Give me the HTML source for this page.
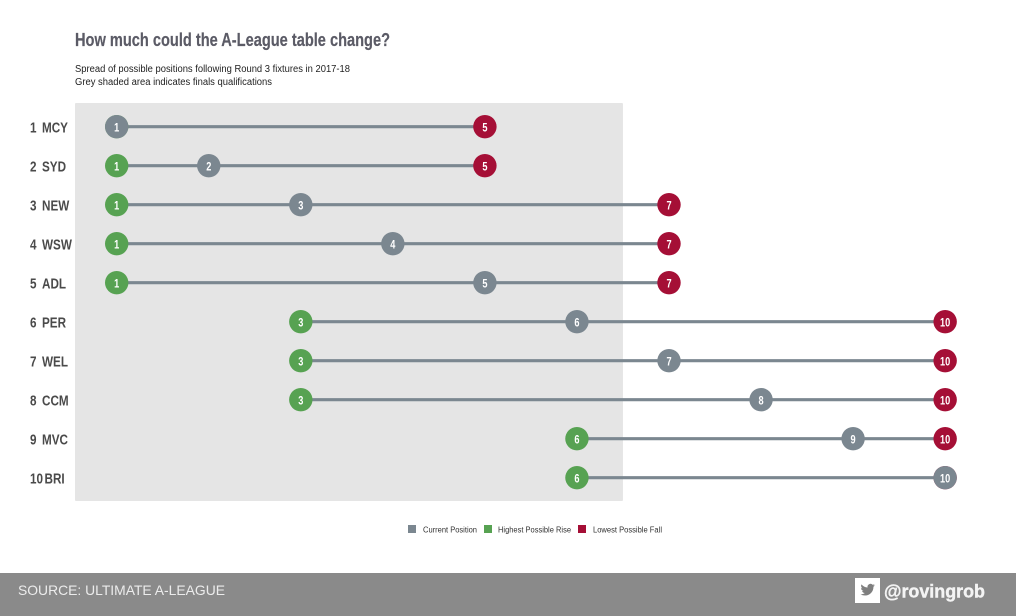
<!DOCTYPE html>
<html lang="en">
<head>
<meta charset="utf-8">
<title>How much could the A-League table change?</title>
<style>
  html, body { margin: 0; padding: 0; background: #fff; }
  #stage { display: block; width: 1016px; height: 616px; font-family: "Liberation Sans", sans-serif; }
</style>
</head>
<body>
<svg id="stage" xmlns="http://www.w3.org/2000/svg" width="1016" height="616" viewBox="0 0 1016 616">
  <text x="75" y="46" font-size="18.5" font-weight="700" fill="#5b5b66" stroke="#5b5b66" stroke-width="0.2" textLength="315" lengthAdjust="spacingAndGlyphs">How much could the A-League table change?</text>
  <text x="75" y="72" font-size="10" fill="#222" textLength="275" lengthAdjust="spacingAndGlyphs">Spread of possible positions following Round 3 fixtures in 2017-18</text>
  <text x="75" y="85" font-size="10" fill="#222" textLength="197" lengthAdjust="spacingAndGlyphs">Grey shaded area indicates finals qualifications</text>

  <g id="plot"></g>

  <g>
    <g>
      <rect x="408" y="525" width="8" height="8" fill="#7b8790"/>
      <text x="423" y="532.5" font-size="8" fill="#333" textLength="54" lengthAdjust="spacingAndGlyphs">Current Position</text>
    </g>
    <g>
      <rect x="484" y="525" width="8" height="8" fill="#57a252"/>
      <text x="498" y="532.5" font-size="8" fill="#333" textLength="73" lengthAdjust="spacingAndGlyphs">Highest Possible Rise</text>
    </g>
    <g>
      <rect x="578" y="525" width="8" height="8" fill="#a50f36"/>
      <text x="593" y="532.5" font-size="8" fill="#333" textLength="69" lengthAdjust="spacingAndGlyphs">Lowest Possible Fall</text>
    </g>
  </g>

  <g>
    <rect x="0" y="573" width="1016" height="43" fill="#8a8a8a"/>
    <text x="18" y="595" font-size="14" fill="#ececec" textLength="207" lengthAdjust="spacingAndGlyphs">SOURCE: ULTIMATE A-LEAGUE</text>
    <a>
      <rect x="855" y="578" width="25" height="25" fill="#fff"/>
      <path transform="translate(860.5,582.5) scale(0.6)" fill="#7f7f7f" d="M23.95 4.57a10 10 0 0 1-2.82.77 4.96 4.96 0 0 0 2.16-2.72 9.9 9.9 0 0 1-3.12 1.19 4.92 4.92 0 0 0-8.38 4.48A13.98 13.98 0 0 1 1.64 3.16a4.92 4.92 0 0 0 1.52 6.57 4.9 4.9 0 0 1-2.23-.62v.06a4.92 4.92 0 0 0 3.95 4.83 5 5 0 0 1-2.21.08 4.94 4.94 0 0 0 4.6 3.42A9.87 9.87 0 0 1 0 19.54a13.94 13.94 0 0 0 7.55 2.21c9.05 0 14-7.5 14-13.98 0-.21 0-.42-.02-.63a9.94 9.94 0 0 0 2.42-2.57z"/>
      <text x="884" y="597.5" font-size="18" font-weight="700" fill="#f4f4f4" stroke="#f4f4f4" stroke-width="0.4" textLength="101" lengthAdjust="spacingAndGlyphs">@rovingrob</text>
    </a>
  </g>
</svg>

<script>
// Chart data
var ranks = [1, 2, 3, 4, 5, 6, 7, 8, 9, 10];
var teams = ["MCY", "SYD", "NEW", "WSW", "ADL", "PER", "WEL", "CCM", "MVC", "BRI"];
var currentPos = [1, 2, 3, 4, 5, 6, 7, 8, 9, 10];
var highestRise = [1, 1, 1, 1, 1, 3, 3, 3, 6, 6];
var lowestFall = [5, 5, 7, 7, 7, 10, 10, 10, 10, 10];
var finalsCutoff = [6.5];

// Axis functions
function xScale(pos) { return 116.7 + (pos - 1) * 92.05; }
function yScale(rowIndex) { return 126.7 + rowIndex * 39; }

var NS = 'http://www.w3.org/2000/svg';
var plot = document.getElementById('plot');

function make(tag, attrs, parent) {
  var el = document.createElementNS(NS, tag);
  for (var k in attrs) { el.setAttribute(k, attrs[k]); }
  parent.appendChild(el);
  return el;
}

var shadeLeft = 75;
var shadeTop = 103;
var shade = make('rect', { x: shadeLeft, y: shadeTop, width: xScale(finalsCutoff[0]) - shadeLeft, height: 398, rx: 1, fill: '#e5e5e5' }, plot);



function drawDot(parent, pos, row, colour, kind) {
  var dot = make('circle', { cx: xScale(pos), cy: yScale(row), r: 11.7, fill: colour }, parent);
  
  
  var label = make('text', { x: 0, y: 0, 'font-size': 11.5, 'font-weight': 700, fill: '#fff', 'text-anchor': 'middle' }, parent);
  
  
  label.setAttribute('transform', 'translate(' + xScale(pos) + ',' + (yScale(row) + 5) + ') scale(0.8,1)');
  label.textContent = pos;
}

function drawCondensedLabel(parent, str, x, y, name) {
  var t = make('text', { x: 0, y: 0, 'font-size': 15, 'font-weight': 700, fill: '#4a4a4a' }, parent);
  
  
  t.setAttribute('transform', 'translate(' + x + ',' + y + ') scale(0.78,1)');
  t.textContent = str;
}

teams.forEach(function (team, i) {
  var slug = team.toLowerCase();
  var g = make('g', {}, plot);
  
  

  drawCondensedLabel(g, String(ranks[i]), 30, yScale(i) + 5.6, 'row-rank-' + slug);
  drawCondensedLabel(g, team, ranks[i] < 10 ? 42 : 44.5, yScale(i) + 5.6, 'row-team-' + slug);

  var line = make('line', { x1: xScale(highestRise[i]), x2: xScale(lowestFall[i]), y1: yScale(i), y2: yScale(i), stroke: '#7b8790', 'stroke-width': 3.2 }, g);
  
  

  drawDot(g, lowestFall[i], i, '#a50f36', 'lowest-fall');
  drawDot(g, highestRise[i], i, '#57a252', 'highest-rise');
  drawDot(g, currentPos[i], i, '#7b8790', 'current');
});
</script>
</body>
</html>
